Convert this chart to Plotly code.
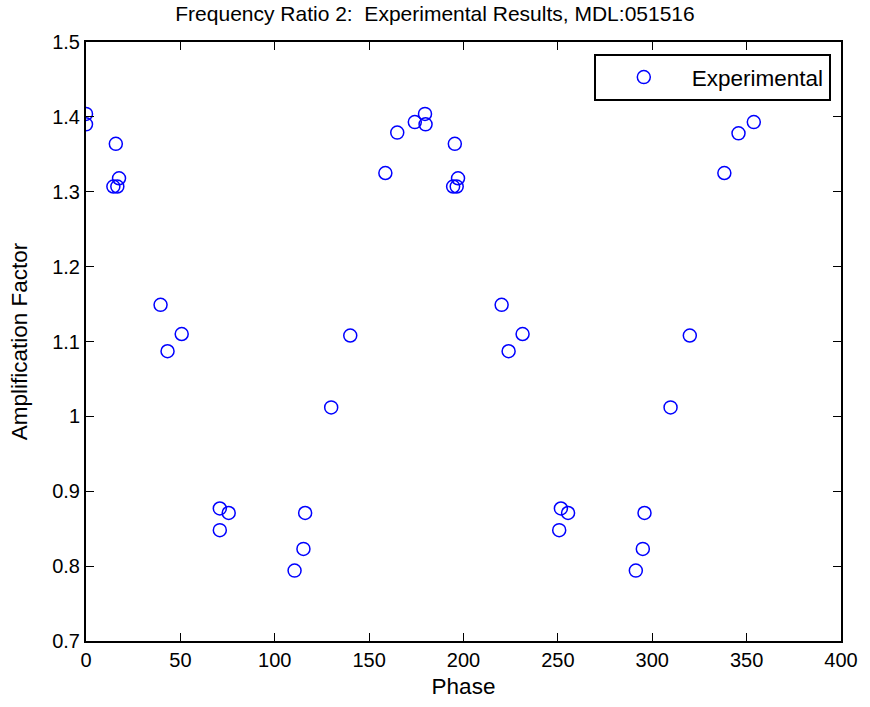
import plotly.graph_objects as go

# Measured amplification factor versus phase (degrees)
phase = [
    0.0, 0.0, 15.8, 14.5, 16.6, 17.5, 39.5, 43.2, 50.7, 70.9,
    75.6, 70.9, 110.5, 115.2, 116.1, 129.9, 140.0, 158.6, 164.9, 174.2,
    179.6, 179.9, 195.4, 194.5, 196.4, 197.1, 220.2, 223.9, 231.3, 251.6,
    255.4, 250.7, 291.3, 295.0, 295.9, 309.7, 319.9, 338.2, 345.7, 353.8,
]
amplification = [
    1.404, 1.390, 1.364, 1.307, 1.307, 1.318, 1.149, 1.087, 1.110, 0.877,
    0.871, 0.848, 0.794, 0.823, 0.871, 1.012, 1.108, 1.325, 1.379, 1.393,
    1.404, 1.390, 1.364, 1.307, 1.307, 1.318, 1.149, 1.087, 1.110, 0.877,
    0.871, 0.848, 0.794, 0.823, 0.871, 1.012, 1.108, 1.325, 1.378, 1.393,
]

x_ticks = [0, 50, 100, 150, 200, 250, 300, 350, 400]
y_ticks = [0.7, 0.8, 0.9, 1.0, 1.1, 1.2, 1.3, 1.4, 1.5]
y_tick_text = ["0.7", "0.8", "0.9", "1", "1.1", "1.2", "1.3", "1.4", "1.5"]

FONT = "Liberation Sans, Arial, Helvetica, sans-serif"

fig = go.Figure()
fig.add_trace(go.Scatter(
    x=phase,
    y=amplification,
    mode="markers",
    name="Experimental",
    marker=dict(symbol="circle-open", size=13, color="#0000FF",
                line=dict(width=1.5, color="#0000FF")),
))

axis_common = dict(
    showgrid=False,
    zeroline=False,
    showline=True,
    linecolor="black",
    linewidth=2,
    mirror="ticks",
    ticks="inside",
    ticklen=8,
    tickwidth=1.3,
    tickcolor="black",
    tickfont=dict(family=FONT, size=20, color="black"),
)

fig.update_layout(
    width=870,
    height=707,
    autosize=False,
    margin=dict(l=86, r=22, t=42, b=64),
    paper_bgcolor="white",
    plot_bgcolor="white",
    font=dict(family=FONT, size=20, color="black"),
    title=dict(
        text="Frequency Ratio 2:  Experimental Results, MDL:051516",
        x=0.5, xanchor="center", y=0.98, yanchor="middle",
        font=dict(family=FONT, size=21, color="black"),
    ),
    xaxis=dict(
        axis_common,
        range=[0, 400],
        tickvals=x_ticks,
        title=dict(text="Phase", standoff=8,
                   font=dict(family=FONT, size=22.5, color="black")),
    ),
    yaxis=dict(
        axis_common,
        range=[0.7, 1.5],
        tickvals=y_ticks,
        ticktext=y_tick_text,
        title=dict(text="Amplification Factor", standoff=18,
                   font=dict(family=FONT, size=22.5, color="black")),
    ),
    showlegend=True,
    legend=dict(
        x=0.9865, xanchor="right",
        y=0.98, yanchor="top",
        bgcolor="white",
        bordercolor="black",
        borderwidth=2,
        itemwidth=86,
        font=dict(family=FONT, size=22.5, color="black"),
    ),
)

fig.write_html("out.html")
